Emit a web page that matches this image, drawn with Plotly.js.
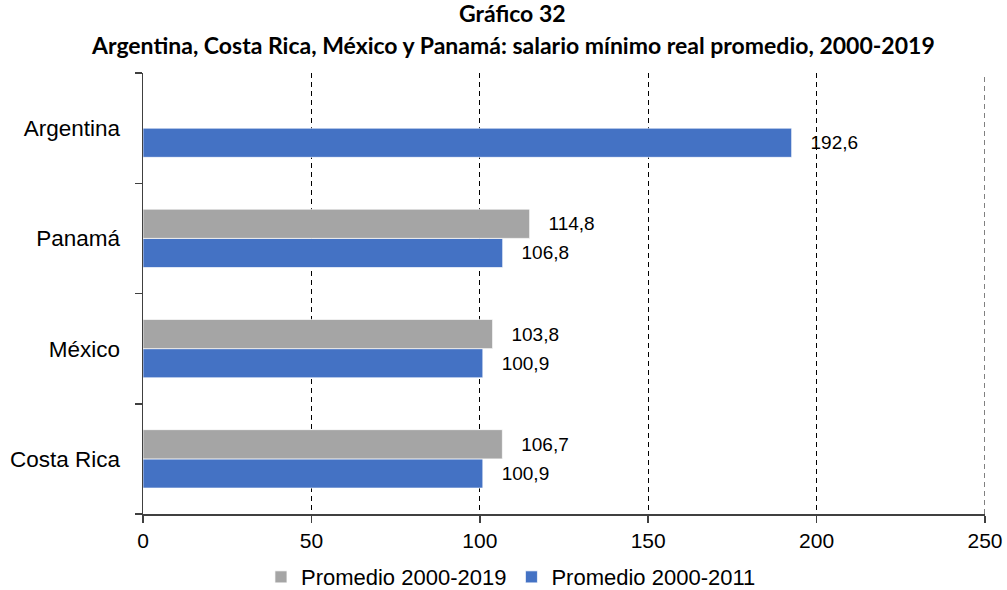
<!DOCTYPE html>
<html>
<head>
<meta charset="utf-8">
<script src="https://cdn.plot.ly/plotly-3.0.1.min.js"></script>
<style>html,body{margin:0;padding:0;background:#fff;}#chart{width:1007px;height:590px;}</style>
</head>
<body>
<div id="chart"></div>
<script>
const categories = ["Costa Rica", "México", "Panamá", "Argentina"];
const promedio2000_2019 = [106.7, 103.8, 114.8, null];
const promedio2000_2011 = [100.9, 100.9, 106.8, 192.6];
const seriesNames = ["Promedio 2000-2019", "Promedio 2000-2011"];
const xTicks = [0, 50, 100, 150, 200, 250];
const titleLines = ["Gráfico 32", "Argentina, Costa Rica, México y Panamá: salario mínimo real promedio, 2000-2019"];

const labelFont = {family: "Liberation Sans, Arial, sans-serif", size: 19, color: "#000"};
const pad = "\u00a0\u00a0\u00a0";

const traces = [
  {
    type: "bar", orientation: "h", name: seriesNames[1],
    y: categories, x: promedio2000_2011,
    marker: {color: "#4472C4", line: {color: "rgba(255,255,255,0.7)", width: 1}},
    texttemplate: pad + "%{x:.1f}", textposition: "outside",
    textfont: labelFont, constraintext: "none", cliponaxis: false,
    legendrank: 2, hoverinfo: "skip"
  },
  {
    type: "bar", orientation: "h", name: seriesNames[0],
    y: categories, x: promedio2000_2019,
    marker: {color: "#A5A5A5", line: {color: "rgba(255,255,255,0.7)", width: 1}},
    texttemplate: pad + "%{x:.1f}", textposition: "outside",
    textfont: labelFont, constraintext: "none", cliponaxis: false,
    legendrank: 1, hoverinfo: "skip"
  }
];

const titleFont = {family: "Lato, 'Open Sans', sans-serif", size: 23, color: "#000", weight: "bold"};
const lastTick = xTicks[xTicks.length - 1];

const layout = {
  width: 1007, height: 590,
  margin: {l: 143, r: 22, t: 73, b: 76, autoexpand: false},
  paper_bgcolor: "#fff", plot_bgcolor: "#fff",
  separators: ",.",
  barmode: "group", bargap: 0.47, bargroupgap: 0,
  font: {family: "Liberation Sans, Arial, sans-serif", size: 20, color: "#000"},
  annotations: [
    {text: "<b>" + titleLines[0] + "</b>", xref: "paper", yref: "paper", x: 0.439, y: 1.136,
     xanchor: "center", yanchor: "middle", showarrow: false, font: titleFont},
    {text: "<b>" + titleLines[1] + "</b>", xref: "paper", yref: "paper", x: 0.439, y: 1.0635,
     xanchor: "center", yanchor: "middle", showarrow: false, font: titleFont}
  ],
  shapes: [
    {type: "line", xref: "x", yref: "paper", x0: lastTick, x1: lastTick, y0: 0, y1: 1,
     line: {color: "#000", width: 1, dash: "5px,4px"}, layer: "below"}
  ],
  xaxis: {
    range: [0, 250], tickvals: xTicks, ticktext: xTicks.map(String),
    showgrid: true, gridcolor: "#000", gridwidth: 1, griddash: "5px,4px",
    zeroline: false, showline: true, linecolor: "#404040", linewidth: 1.5,
    ticks: "outside", ticklen: 7, tickcolor: "#404040", tickwidth: 1.5,
    tickfont: {size: 21}, fixedrange: true, automargin: false
  },
  yaxis: {
    type: "category", categoryorder: "array", categoryarray: categories,
    showgrid: false, zeroline: false, showline: true, linecolor: "#404040", linewidth: 1.5,
    ticks: "outside", ticklen: 7, tickcolor: "#404040", tickwidth: 1.5,
    tickson: "boundaries", tickfont: {size: 22.5}, ticklabelstandoff: 17,
    fixedrange: true, automargin: false
  },
  showlegend: true,
  legend: {
    orientation: "h", xref: "paper", x: 0.437, xanchor: "center",
    y: -0.143, yanchor: "middle", font: {size: 22}, traceorder: "normal",
    itemwidth: 30
  }
};

Plotly.newPlot("chart", traces, layout, {displayModeBar: false, staticPlot: true});
</script>
</body>
</html>
